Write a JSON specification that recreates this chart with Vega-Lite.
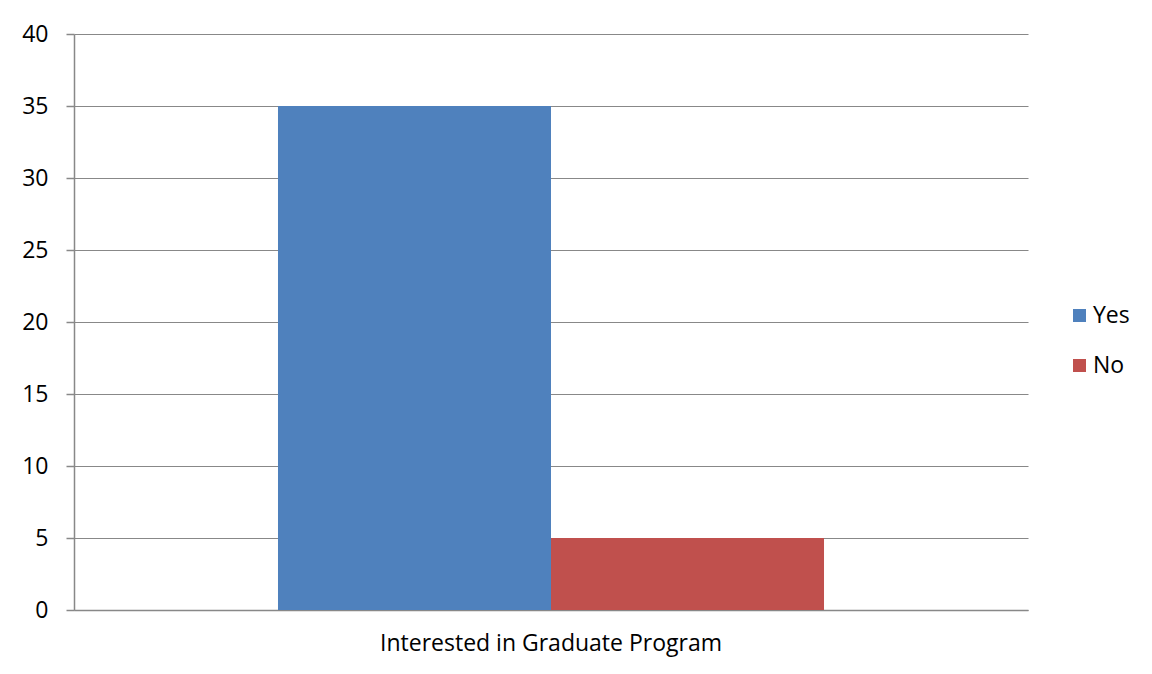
{
  "$schema": "https://vega.github.io/schema/vega-lite/v6.json",
  "width": 954,
  "height": 576,
  "autosize": {"type": "none"},
  "padding": {"left": 74, "top": 34, "right": 124, "bottom": 64},
  "background": "white",
  "data": {"values": [
    {"category": "Interested in Graduate Program", "answer": "Yes", "count": 35},
    {"category": "Interested in Graduate Program", "answer": "No", "count": 5}
  ]},
  "mark": {"type": "bar"},
  "encoding": {
    "x": {
      "field": "category", "type": "nominal", "title": null,
      "scale": {"paddingInner": 0, "paddingOuter": 0.3736},
      "axis": {"labelAngle": 0, "ticks": false, "labelPadding": 22, "labelFontSize": 23, "labelLimit": 0, "labelFont": "Open Sans", "labelColor": "#000", "domainColor": "#888", "domainWidth": 1.5}
    },
    "xOffset": {"field": "answer", "type": "nominal", "sort": ["Yes", "No"], "scale": {"paddingInner": 0, "paddingOuter": 0}},
    "y": {
      "field": "count", "type": "quantitative", "title": null,
      "scale": {"domain": [0, 40], "nice": false},
      "axis": {"values": [0, 5, 10, 15, 20, 25, 30, 35, 40], "tickSize": 8, "labelPadding": 18, "labelFontSize": 23, "labelFont": "Open Sans", "labelColor": "#000", "domainColor": "#888", "domainWidth": 1.5, "tickColor": "#888", "tickWidth": 1.5, "gridColor": "#888", "gridWidth": 1.2}
    },
    "color": {
      "field": "answer", "type": "nominal", "sort": ["Yes", "No"], "title": null,
      "scale": {"domain": ["Yes", "No"], "range": ["#4F81BD", "#C0504D"]},
      "legend": {"orient": "none", "legendX": 994, "legendY": 270, "symbolType": "square", "symbolSize": 169, "symbolStrokeWidth": 0, "labelFontSize": 23, "labelFont": "Open Sans", "labelColor": "#000", "rowPadding": 26, "labelOffset": 2}
    }
  },
  "config": {"view": {"stroke": null}}
}
